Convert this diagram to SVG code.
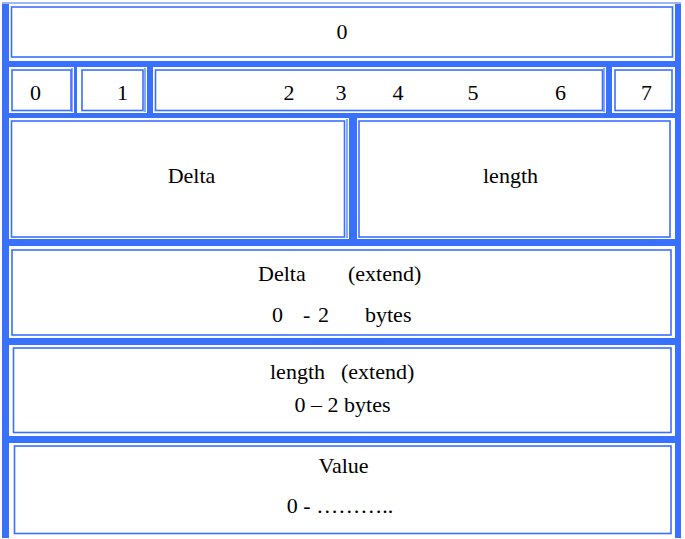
<svg xmlns="http://www.w3.org/2000/svg" width="685" height="539" viewBox="0 0 685 539">
<style>
.bar{fill:#3870FF}
.cell{fill:#fff;stroke:#3870FF;stroke-width:1.6}
.thin{fill:none;stroke:#3870FF;stroke-width:1.2}
text{font-family:"Liberation Serif","Times New Roman",serif;font-size:22px;fill:#000}
.m{text-anchor:middle}
</style>
<rect width="685" height="539" fill="#fff"/>
<g id="grid">
<rect class="bar" x="2" y="4" width="7" height="534"/>
<rect class="bar" x="675" y="4" width="6" height="534"/>
<line class="thin" x1="2" y1="3" x2="681" y2="3"/>
<rect class="bar" x="2" y="61" width="679" height="6"/>
<rect class="bar" x="2" y="113" width="679" height="5"/>
<rect class="bar" x="2" y="239" width="679" height="7"/>
<rect class="bar" x="2" y="338" width="679" height="7"/>
<rect class="bar" x="2" y="436" width="679" height="7"/>
<rect class="bar" x="74" y="67" width="3" height="46"/>
<rect class="bar" x="147" y="67" width="6" height="46"/>
<rect class="bar" x="606" y="67" width="6" height="46"/>
<rect class="bar" x="349" y="118" width="8" height="121"/>
</g>
<g id="cell-top">
<rect class="cell" x="11.5" y="7" width="661" height="50"/>
<text class="m" x="342" y="39">0</text>
</g>
<g id="cell-bits">
<rect class="cell" x="12" y="70" width="59" height="40.5"/>
<rect class="cell" x="82" y="70" width="61" height="40.5"/>
<rect class="cell" x="155.5" y="70" width="447" height="40.5"/>
<rect class="cell" x="615" y="70" width="57" height="40.5"/>
<line class="thin" x1="72" y1="68" x2="72" y2="112"/>
<line class="thin" x1="145" y1="68" x2="145" y2="112"/>
<line class="thin" x1="604" y1="68" x2="604" y2="112"/>
<text class="m" x="35.5" y="100">0</text>
<text class="m" x="122.5" y="100">1</text>
<text class="m" x="289" y="100">2</text>
<text class="m" x="341" y="100">3</text>
<text class="m" x="398" y="100">4</text>
<text class="m" x="473" y="100">5</text>
<text class="m" x="560.5" y="100">6</text>
<text class="m" x="646.5" y="100">7</text>
</g>
<g id="cell-delta">
<rect class="cell" x="11.5" y="121" width="333" height="116"/>
<line class="thin" x1="347" y1="119" x2="347" y2="238"/>
<text class="m" x="191.5" y="183">Delta</text>
</g>
<g id="cell-length">
<rect class="cell" x="359" y="121" width="311" height="116"/>
<text class="m" x="510.5" y="183">length</text>
</g>
<g id="cell-delta-ext">
<rect class="cell" x="12" y="250" width="659" height="85"/>
<text x="258" y="281">Delta</text>
<text x="348" y="281">(extend)</text>
<text x="272" y="322">0</text>
<text x="303" y="322">-</text>
<text x="318" y="322">2</text>
<text x="365" y="322">bytes</text>
</g>
<g id="cell-length-ext">
<rect class="cell" x="13.5" y="348" width="657.5" height="84.5"/>
<text x="270" y="379">length</text>
<text x="341" y="379">(extend)</text>
<text class="m" x="342.5" y="412">0 – 2 bytes</text>
</g>
<g id="cell-value">
<rect class="cell" x="14.5" y="446" width="656.5" height="87.5"/>
<text class="m" x="343.5" y="473">Value</text>
<text class="m" x="340" y="513">0 - ………..</text>
</g>
<g id="connectors"/>
</svg>
